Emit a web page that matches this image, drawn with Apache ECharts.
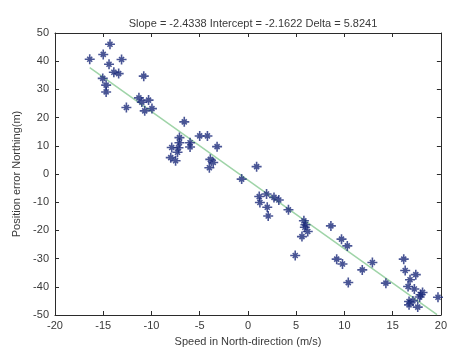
<!DOCTYPE html>
<html>
<head>
<meta charset="utf-8">
<script src="https://cdn.jsdelivr.net/npm/echarts@6/dist/echarts.min.js"></script>
<style>
  html, body { margin: 0; padding: 0; background: #fff; }
  #chart { width: 450px; height: 352px; }
</style>
</head>
<body>
<div id="chart"></div>
<script>
// speed in north direction (m/s) vs position error northing (m)
const speedX = [
  -16.4, -15.0, -14.3, -14.4, -15.05, -14.7, -14.7, -13.9, -13.4, -13.1,
  -10.8, -12.6, -11.3, -11.0, -10.3, -10.7, -9.95,
  -6.6, -7.1, -7.1, -7.9, -7.2, -7.3, -8.0, -7.5, -6.0, -6.0,
  -5.0, -4.2, -3.2, -3.9, -3.6, -4.0, -0.65, 0.9,
  1.17, 1.24, 1.93, 2.0, 2.1, 2.7, 3.2, 4.2, 5.8, 5.96,
  8.6, 5.9, 6.2, 5.6, 4.9, 9.7, 10.3, 9.2, 9.8, 10.4,
  11.85, 12.9, 14.3, 16.15, 16.3, 16.8, 17.4, 16.6, 17.25, 17.9,
  18.1, 17.8, 16.7, 17.1, 16.7, 17.6, 19.7
]
const errorY = [
  40.7, 42.4, 46.0, 38.9, 33.9, 31.5, 29.1, 36.1, 35.6, 40.6,
  34.7, 23.6, 27.0, 25.5, 26.2, 22.4, 23.2,
  18.5, 12.9, 11.1, 9.4, 9.3, 7.7, 5.8, 4.7, 11.1, 9.6,
  13.5, 13.5, 9.7, 5.2, 4.1, 2.2, -1.8, 2.6,
  -8.0, -10.1, -7.1, -11.8, -14.9, -8.3, -9.2, -12.7, -16.6, -18.0,
  -18.4, -18.9, -20.4, -22.2, -28.9, -23.1, -25.5, -30.2, -31.9, -38.5,
  -34.0, -31.4, -38.7, -30.2, -34.2, -37.5, -35.7, -39.9, -40.8, -42.8,
  -42.0, -43.6, -45.2, -45.0, -46.4, -47.2, -43.7
]
const slope = -2.4338
const intercept = -2.1622
const delta = 5.8241
const fitRangeX = [-16.4, 19.6]

const xTicks = [-20, -15, -10, -5, 0, 5, 10, 15, 20]
const yTicks = [-50, -40, -30, -20, -10, 0, 10, 20, 30, 40, 50]

const points = speedX.map((x, i) => [x, errorY[i]])
const fitLine = fitRangeX.map((x) => [x, slope * x + intercept])

const starPath = 'path://M0,-5L0,5M-5,0L5,0M-2.5,-2.5L2.5,2.5M-2.5,2.5L2.5,-2.5'
const axisColor = '#2b2b2b'
const labelColor = '#3a3a3a'
const font = 'Liberation Sans, Arial, sans-serif'

const chart = echarts.init(document.getElementById('chart'), null, { renderer: 'canvas' })

const baseX = {
  type: 'value', min: xTicks[0], max: xTicks[xTicks.length - 1], interval: 5,
  axisLine: { show: true, onZero: false, lineStyle: { color: axisColor, width: 1 } },
  axisTick: { show: true, inside: true, length: 4, lineStyle: { color: axisColor } },
  splitLine: { show: false }
}
const baseY = {
  type: 'value', min: yTicks[0], max: yTicks[yTicks.length - 1], interval: 10,
  axisLine: { show: true, onZero: false, lineStyle: { color: axisColor, width: 1 } },
  axisTick: { show: true, inside: true, length: 4, lineStyle: { color: axisColor } },
  splitLine: { show: false }
}

chart.setOption({
  backgroundColor: '#ffffff',
  animation: false,
  title: {
    text: `Slope = ${slope} Intercept = ${intercept} Delta = ${delta}`,
    left: 248, top: 13, textAlign: 'center',
    textStyle: { fontSize: 11, fontWeight: 'normal', color: labelColor, fontFamily: font }
  },
  grid: { left: 55, right: 8, top: 33, bottom: 37 },
  xAxis: [
    Object.assign({}, baseX, {
      position: 'bottom',
      name: 'Speed in North-direction (m/s)', nameLocation: 'middle', nameGap: 21,
      nameTextStyle: { fontSize: 11, color: labelColor, fontFamily: font },
      axisLabel: { show: true, fontSize: 11, color: labelColor, fontFamily: font, margin: 5 }
    }),
    Object.assign({}, baseX, { position: 'top', axisLabel: { show: false } })
  ],
  yAxis: [
    Object.assign({}, baseY, {
      position: 'left',
      name: 'Position error Northing(m)', nameLocation: 'middle', nameGap: 31,
      nameTextStyle: { fontSize: 11, color: labelColor, fontFamily: font },
      axisLabel: { show: true, fontSize: 11, color: labelColor, fontFamily: font, margin: 6 }
    }),
    Object.assign({}, baseY, { position: 'right', axisLabel: { show: false } })
  ],
  series: [
    {
      type: 'line', data: fitLine, symbol: 'none',
      lineStyle: { color: '#9fd4a8', width: 1.5 }, z: 1
    },
    {
      type: 'scatter', data: points, symbol: starPath, symbolSize: 10,
      itemStyle: { color: 'rgba(0,0,0,0)', borderColor: '#1c2a7a', borderWidth: 1.6 }, z: 2
    }
  ]
})
</script>
</body>
</html>
